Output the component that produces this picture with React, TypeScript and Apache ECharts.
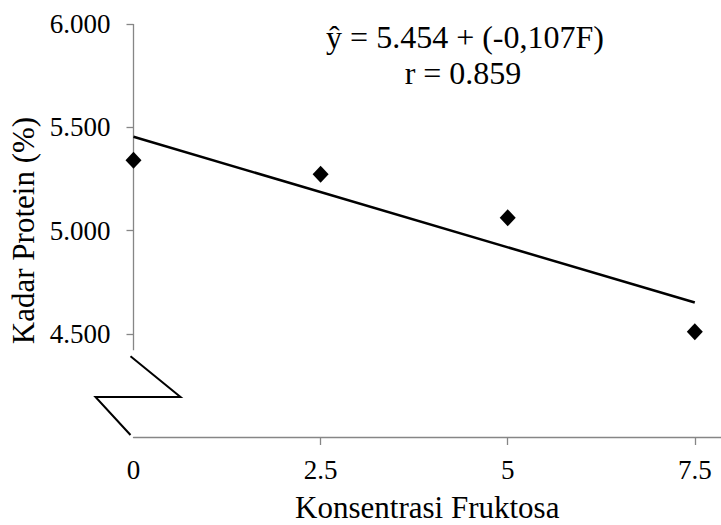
import React, { useEffect, useRef } from "react";
import * as echarts from "echarts";

const concentrations = [0, 2.5, 5, 7.5];
const protein = [5.34, 5.272, 5.062, 4.51];
const trendX = [0, 7.5];
const trendY = [5.454, 4.651];
const yTicks = [4.5, 5, 5.5, 6];
const xLabels = [0, 2.5, 5, 7.5];
const xTicks = [2.5, 5, 7.5];
const equationLines = ["ŷ = 5.454 + (-0,107F)", "r = 0.859"];

const FONT = "Liberation Serif";
const AXIS_GRAY = "#868686";

export default function App() {
  const ref = useRef<HTMLDivElement>(null);
  useEffect(() => {
    if (!ref.current) return;
    const chart = echarts.init(ref.current, undefined, { renderer: "svg" });
    const option: any = {
      animation: false,
      backgroundColor: "#ffffff",
      textStyle: { fontFamily: FONT },
      grid: { left: 133.5, right: 0, top: 24, bottom: 88, containLabel: false, outerBoundsMode: "none" },
      xAxis: {
        type: "value",
        min: 0,
        max: 7.85,
        axisLine: { show: true, lineStyle: { color: AXIS_GRAY, width: 1.3 } },
        axisTick: { show: true, length: 8, customValues: xTicks, lineStyle: { color: AXIS_GRAY, width: 1.3 } },
        axisLabel: {
          customValues: xLabels,
          margin: 19,
          fontFamily: FONT,
          fontSize: 27,
          color: "#000",
        },
        splitLine: { show: false },
        name: "Konsentrasi Fruktosa",
        nameLocation: "middle",
        nameGap: 55,
        nameTextStyle: { fontFamily: FONT, fontSize: 31, lineHeight: 31, color: "#000" },
      },
      yAxis: {
        type: "value",
        min: 4,
        max: 6,
        axisLine: { show: false },
        axisTick: { show: true, length: 7, customValues: yTicks, lineStyle: { color: AXIS_GRAY, width: 1.3 } },
        axisLabel: {
          customValues: yTicks,
          formatter: (v: number) => v.toFixed(3),
          margin: 23,
          fontFamily: FONT,
          fontSize: 27,
          color: "#000",
        },
        splitLine: { show: false },
        name: "Kadar Protein (%)",
        nameLocation: "middle",
        nameGap: 88,
        nameTextStyle: { fontFamily: FONT, fontSize: 31, color: "#000" },
      },
      series: [
        {
          type: "line",
          data: trendX.map((x, i) => [x, trendY[i]]),
          symbol: "none",
          lineStyle: { color: "#000", width: 2.5 },
          z: 2,
        },
        {
          type: "scatter",
          data: concentrations.map((x, i) => [x, protein[i]]),
          symbol: "diamond",
          symbolSize: [16, 17],
          itemStyle: { color: "#000", opacity: 1 },
          z: 3,
        },
      ],
    };
    chart.setOption(option);

    const top = chart.convertToPixel({ gridIndex: 0 }, [0, 6]) as number[];
    const cut = chart.convertToPixel({ gridIndex: 0 }, [0, 4.42]) as number[];
    const base = chart.convertToPixel({ gridIndex: 0 }, [0, 4]) as number[];
    const ax = top[0];
    const by = base[1];
    const brk = { stroke: "#000", lineWidth: 2 };
    chart.setOption({
      graphic: [
        {
          type: "line",
          shape: { x1: ax, y1: top[1], x2: ax, y2: cut[1] },
          style: { stroke: AXIS_GRAY, lineWidth: 1.3 },
        },
        {
          type: "polyline",
          shape: {
            points: [
              [ax - 3, cut[1] + 6],
              [ax + 47, by - 40],
              [ax - 38, by - 40],
              [ax - 3, by - 2],
            ],
          },
          style: { ...brk, fill: "none" },
        },
        {
          type: "text",
          x: 465,
          y: 37,
          style: {
            text: equationLines[0],
            fontFamily: FONT,
            fontSize: 32,
            fill: "#000",
            align: "center",
            verticalAlign: "middle",
          },
        },
        {
          type: "text",
          x: 463,
          y: 73,
          style: {
            text: equationLines[1],
            fontFamily: FONT,
            fontSize: 32,
            fill: "#000",
            align: "center",
            verticalAlign: "middle",
          },
        },
      ],
    });
    return () => chart.dispose();
  }, []);
  return (
    <div
      ref={ref}
      style={{ position: "fixed", left: 0, top: 0, width: 721, height: 525 }}
    />
  );
}
